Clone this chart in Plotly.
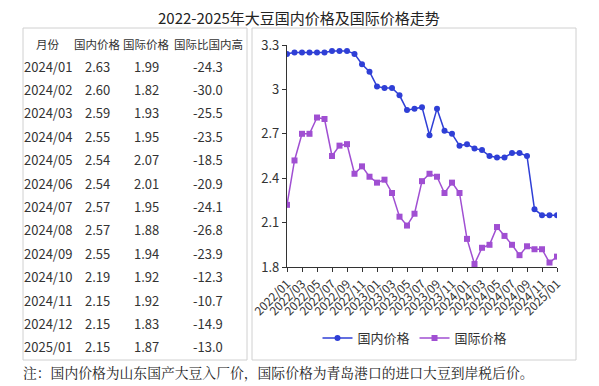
import plotly.graph_objects as go

# page body has an 8px margin: the figure is sized to fit the visible window
OFF = 8
W, H = 599 - OFF, 386 - OFF

# ---------------- data ----------------
months = [f"{y}/{m:02d}" for y in (2022, 2023, 2024) for m in range(1, 13)] + ["2025/01"]

domestic = [3.24, 3.25, 3.25, 3.25, 3.25, 3.25, 3.26, 3.26, 3.26, 3.24, 3.17, 3.12,
            3.02, 3.01, 3.01, 2.96, 2.86, 2.87, 2.88, 2.69, 2.87, 2.72, 2.70, 2.62,
            2.63, 2.60, 2.59, 2.55, 2.54, 2.54, 2.57, 2.57, 2.55, 2.19, 2.15, 2.15, 2.15]

international = [2.22, 2.52, 2.70, 2.70, 2.81, 2.80, 2.55, 2.62, 2.63, 2.43, 2.48, 2.41,
                 2.37, 2.39, 2.30, 2.14, 2.08, 2.16, 2.38, 2.43, 2.41, 2.30, 2.37, 2.30,
                 1.99, 1.82, 1.93, 1.95, 2.07, 2.01, 1.95, 1.88, 1.94, 1.92, 1.92, 1.83, 1.87]

table_months = months[24:]
table_domestic = ["2.63", "2.60", "2.59", "2.55", "2.54", "2.54", "2.57", "2.57", "2.55", "2.19", "2.15", "2.15", "2.15"]
table_intl = ["1.99", "1.82", "1.93", "1.95", "2.07", "2.01", "1.95", "1.88", "1.94", "1.92", "1.92", "1.83", "1.87"]
table_diff = ["-24.3", "-30.0", "-25.5", "-23.5", "-18.5", "-20.9", "-24.1", "-26.8", "-23.9", "-12.3", "-10.7", "-14.9", "-13.0"]
table_headers = ["月份", "国内价格", "国际价格", "国际比国内高"]

y_ticks = [1.8, 2.1, 2.4, 2.7, 3.0, 3.3]
y_ticktext = ["1.8", "2.1", "2.4", "2.7", "3", "3.3"]

title_text = "2022-2025年大豆国内价格及国际价格走势"
note_text = "注：国内价格为山东国产大豆入厂价，国际价格为青岛港口的进口大豆到岸税后价。"

BLUE = "#2f3fd6"
PURPLE = "#a04fd2"
FONT = "Noto Sans CJK SC"
TXT = "#333333"


def px(x):
    return (x - OFF) / W


def py(y):
    return 1 - (y - OFF) / H


fig = go.Figure()
fig.add_trace(go.Scatter(
    x=months, y=domestic, name="国内价格", mode="lines+markers",
    line=dict(color=BLUE, width=1.5),
    marker=dict(symbol="circle", size=6, color=BLUE),
))
fig.add_trace(go.Scatter(
    x=months, y=international, name="国际价格", mode="lines+markers",
    line=dict(color=PURPLE, width=1.5),
    marker=dict(symbol="square", size=6, color=PURPLE),
))

annotations = []
# title
annotations.append(dict(text=title_text, x=px(299), y=py(17), xref="paper", yref="paper",
                        showarrow=False, xanchor="center", yanchor="middle", borderpad=0,
                        font=dict(family=FONT, size=15, color="#222222")))
# footnote
annotations.append(dict(text=note_text, x=px(22), y=py(372), xref="paper", yref="paper",
                        showarrow=False, xanchor="left", yanchor="middle", borderpad=0,
                        font=dict(family="Noto Serif CJK SC, " + FONT, size=13.8, color="#222222")))

# table
col_x = [48, 97, 146, 208]
header_y = 44
row_y0 = 66
row_step = 23.4
for cx, h in zip(col_x, table_headers):
    annotations.append(dict(text=h, x=px(cx), y=py(header_y), xref="paper", yref="paper",
                            showarrow=False, xanchor="center", yanchor="middle",
                            font=dict(family=FONT, size=11.5, color=TXT)))
for i, (m, d, it, df) in enumerate(zip(table_months, table_domestic, table_intl, table_diff)):
    yy = py(row_y0 + i * row_step)
    for cx, val in zip(col_x, (m, d, it, df)):
        annotations.append(dict(text=val, x=px(cx), y=yy, xref="paper", yref="paper",
                                showarrow=False, xanchor="center", yanchor="middle",
                                font=dict(family=FONT, size=13, color=TXT)))

shapes = [
    dict(type="rect", xref="paper", yref="paper", x0=px(23), x1=px(247), y0=py(360), y1=py(28),
         line=dict(color="#d0d0d0", width=1)),
    dict(type="rect", xref="paper", yref="paper", x0=px(252), x1=px(576), y0=py(360), y1=py(28),
         line=dict(color="#d0d0d0", width=1)),
]

fig.update_layout(
    width=W, height=H, autosize=False,
    margin=dict(l=0, r=0, t=0, b=0, pad=0, autoexpand=False),
    paper_bgcolor="white", plot_bgcolor="white",
    showlegend=True,
    legend=dict(orientation="h", x=px(415), y=py(338), xanchor="center", yanchor="middle",
                font=dict(family=FONT, size=13, color=TXT), itemwidth=30,
                bgcolor="rgba(0,0,0,0)"),
    annotations=annotations,
    shapes=shapes,
    font=dict(family=FONT, color=TXT),
    xaxis=dict(
        type="category", categoryorder="array", categoryarray=months,
        domain=[px(287), px(557)], range=[0, len(months) - 1],
        tickmode="array", tickvals=months[::2], ticktext=months[::2],
        tickangle=-45, ticks="outside", ticklen=4, tickcolor="#333",
        showline=True, linecolor="#333", linewidth=1.2,
        showgrid=False, zeroline=False, automargin=False,
        tickfont=dict(family=FONT, size=12, color=TXT),
    ),
    yaxis=dict(
        domain=[py(267), py(45)], range=[1.8, 3.3],
        tickmode="array", tickvals=y_ticks, ticktext=y_ticktext,
        ticks="outside", ticklen=4, tickcolor="#333",
        showline=True, linecolor="#333", linewidth=1.2,
        showgrid=False, zeroline=False, automargin=False,
        tickfont=dict(family=FONT, size=13, color=TXT),
    ),
)

fig.write_html("out.html")
